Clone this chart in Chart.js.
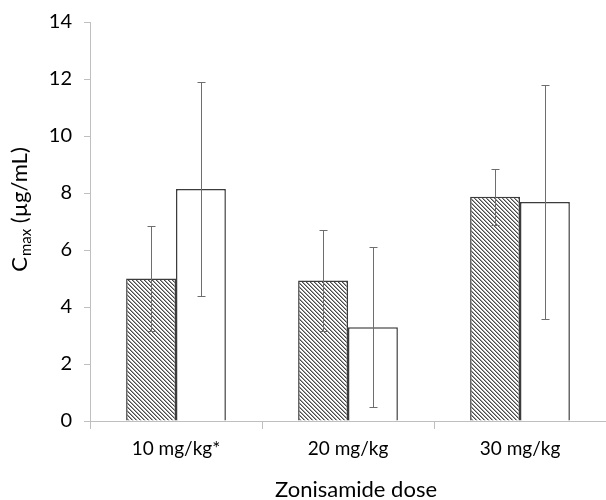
<!DOCTYPE html>
<html>
<head>
<meta charset="utf-8">
<script src="https://cdn.jsdelivr.net/npm/chart.js@4"></script>
<style>
  html, body { margin: 0; padding: 0; background: #fff; }
</style>
</head>
<body>
<canvas id="chart" width="606" height="500"></canvas>
<script>
// data
const categories = ['10 mg/kg*', '20 mg/kg', '30 mg/kg'];
const hatchedValues = [5.0, 4.93, 7.87];
const hatchedErrors = [1.83, 1.77, 0.98];
const openValues = [8.14, 3.29, 7.68];
const openErrors = [3.77, 2.8, 4.1];

const FONT = 'Lato';

// diagonal hatch fill
function makeHatch() {
    const c = document.createElement('canvas');
    c.width = 4; c.height = 4;
    const g = c.getContext('2d');
    g.fillStyle = '#ffffff';
    g.fillRect(0, 0, 4, 4);
    for (let i = 0; i < 4; i++) {
        g.fillStyle = '#4a4a4a';
        g.fillRect(i, i, 1, 1);
        g.fillStyle = '#a0a0a0';
        g.fillRect((i + 1) % 4, i, 1, 1);
    }
    return g.createPattern(c, 'repeat');
}

// error bars drawn through the y scale
const errorBars = {
    id: 'errorBars',
    afterDatasetsDraw(chart) {
        const ctx = chart.ctx;
        const y = chart.scales.y;
        const errs = [hatchedErrors, openErrors];
        ctx.save();
        ctx.strokeStyle = '#6e6e6e';
        ctx.lineWidth = 1;
        chart.data.datasets.forEach((ds, di) => {
            const meta = chart.getDatasetMeta(di);
            meta.data.forEach((bar, i) => {
                const v = ds.data[i];
                const e = errs[di][i];
                const x = Math.round(bar.x) + 0.5;
                const top = Math.round(y.getPixelForValue(v + e)) + 0.5;
                const bot = Math.round(y.getPixelForValue(v - e)) + 0.5;
                ctx.beginPath();
                ctx.moveTo(x, top); ctx.lineTo(x, bot);
                ctx.moveTo(x - 4, top); ctx.lineTo(x + 4, top);
                ctx.moveTo(x - 4, bot); ctx.lineTo(x + 4, bot);
                ctx.stroke();
            });
        });
        ctx.restore();
    }
};

// axis titles (y title needs a subscript)
const axisTitles = {
    id: 'axisTitles',
    afterDraw(chart) {
        const ctx = chart.ctx;
        ctx.save();
        ctx.fillStyle = '#000000';
        ctx.textBaseline = 'middle';
        ctx.textAlign = 'center';
        ctx.font = '22px ' + FONT;
        ctx.fillText('Zonisamide dose', 356, 490);

        ctx.translate(20, 210);
        ctx.rotate(-Math.PI / 2);
        const big = '22px ' + FONT, small = '15px ' + FONT;
        ctx.font = big; const wC = ctx.measureText('C').width;
        const rest = ' (\u00b5g/mL)'; const wR = ctx.measureText(rest).width;
        ctx.font = small; const wS = ctx.measureText('max').width;
        let x = -(wC + wS + wR) / 2;
        ctx.textAlign = 'left';
        ctx.font = big; ctx.fillText('C', x, 0); x += wC;
        ctx.font = small; ctx.fillText('max', x + 1, 6); x += wS + 1;
        ctx.font = big; ctx.fillText(rest, x, 0);
        ctx.restore();
    }
};

new Chart(document.getElementById('chart'), {
    type: 'bar',
    data: {
        labels: categories,
        datasets: [
            {
                data: hatchedValues,
                backgroundColor: makeHatch(),
                borderColor: '#3c3c3c',
                borderWidth: 1.5
            },
            {
                data: openValues,
                backgroundColor: '#ffffff',
                borderColor: '#3c3c3c',
                borderWidth: 1.5
            }
        ]
    },
    options: {
        responsive: false,
        animation: false,
        layout: { padding: { top: 22, right: 0, bottom: 0, left: 0 } },
        plugins: {
            legend: { display: false },
            tooltip: { enabled: false }
        },
        datasets: {
            bar: { barPercentage: 1.0, categoryPercentage: 0.58 }
        },
        scales: {
            x: {
                grid: { offset: true, drawOnChartArea: false, tickLength: 8, color: '#bfbfbf' },
                border: { color: '#bfbfbf' },
                ticks: { font: { family: FONT, size: 19 }, color: '#000000', padding: 8 },
                afterFit(s) { s.height = 79; s.paddingLeft = 0; s.paddingRight = 0; }
            },
            y: {
                min: 0, max: 14,
                ticks: { stepSize: 2, font: { family: FONT, size: 20 }, color: '#000000', padding: 12 },
                grid: { drawOnChartArea: false, tickLength: 6, color: '#bfbfbf' },
                border: { color: '#bfbfbf' },
                afterFit(s) { s.width = 90; s.paddingTop = 0; s.paddingBottom = 0; }
            }
        }
    },
    plugins: [errorBars, axisTitles]
});
</script>
</body>
</html>
